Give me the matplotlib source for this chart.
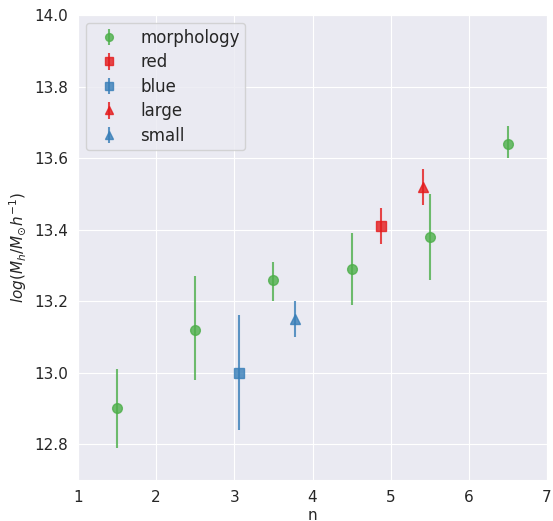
import matplotlib
matplotlib.use("Agg")
import matplotlib.pyplot as plt
import seaborn as sns
import numpy as np

sns.set_style("darkgrid")
plt.rcParams['font.family'] = ['DejaVu Sans']

# data
morph_x = [1.5, 2.5, 3.5, 4.5, 5.5, 6.5]
morph_y = [12.90, 13.12, 13.26, 13.29, 13.38, 13.64]
morph_lo = [0.11, 0.14, 0.06, 0.10, 0.12, 0.04]
morph_hi = [0.11, 0.15, 0.05, 0.10, 0.12, 0.05]

red_x = [4.87]
red_y = [13.41]
red_err = [0.05]

blue_x = [3.06]
blue_y = [13.00]
blue_err = [0.16]

large_x = [5.42]
large_y = [13.52]
large_err = [0.05]

small_x = [3.77]
small_y = [13.15]
small_err = [0.05]

green = '#4daf4a'
red = '#e41a1c'
blue = '#377eb8'

fig = plt.figure(figsize=(5.53, 5.21), dpi=100)
ax = fig.add_axes([78/553, 1-480/521, 469/553, 465/521])

kw = dict(alpha=0.8, markersize=7, elinewidth=1.5, linestyle='none')
ax.errorbar(morph_x, morph_y, yerr=[morph_lo, morph_hi], fmt='o', color=green, label='morphology', **kw)
ax.errorbar(red_x, red_y, yerr=red_err, fmt='s', color=red, label='red', **kw)
ax.errorbar(blue_x, blue_y, yerr=blue_err, fmt='s', color=blue, label='blue', **kw)
ax.errorbar(large_x, large_y, yerr=large_err, fmt='^', color=red, label='large', **kw)
ax.errorbar(small_x, small_y, yerr=small_err, fmt='^', color=blue, label='small', **kw)

ax.set_xlim(1, 7)
ax.set_ylim(12.7, 14.0)
ax.set_xticks([1, 2, 3, 4, 5, 6, 7])
ax.set_yticks([12.8, 13.0, 13.2, 13.4, 13.6, 13.8, 14.0])
ax.tick_params(labelsize=11)
ax.set_xlabel('n', fontsize=11, labelpad=2)
ax.set_ylabel(r'$log(M_h/M_{\odot}h^{-1})$', fontsize=11)
ax.legend(loc='upper left', fontsize=12, frameon=True, borderpad=0.34, labelspacing=0.39,
          handletextpad=0.8, borderaxespad=0.48, markerscale=0.8, handlelength=2.1)

fig.savefig('out.png', dpi=100)
